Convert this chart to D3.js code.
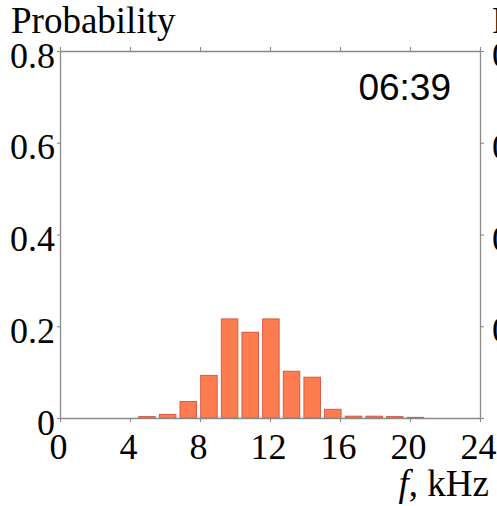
<!DOCTYPE html>
<html>
<head>
<meta charset="utf-8">
<script src="https://cdn.jsdelivr.net/npm/d3@7"></script>
<style>
  html, body { margin: 0; padding: 0; background: #fff; }
  svg { display: block; }
</style>
</head>
<body>
<svg id="chart" width="497" height="506"></svg>
<script>
// ---- data ----
const binCenters = [4.97, 6.15, 7.33, 8.51, 9.69, 10.87, 12.05, 13.23, 14.41, 15.59, 16.77, 17.95, 19.13, 20.31];
const probabilities = [0.003, 0.008, 0.036, 0.093, 0.216, 0.187, 0.216, 0.102, 0.089, 0.019, 0.004, 0.004, 0.003, 0.0015];
const binWidth = 1.18;
const xTicks = [0, 4, 8, 12, 16, 20, 24];
const yTicks = [0, 0.2, 0.4, 0.6, 0.8];
const yTickLabels = ["0", "0.2", "0.4", "0.6", "0.8"];
const timeLabel = "06:39";
const yTitle = "Probability";

// ---- layout ----
const svg = d3.select("#chart");
const mLeft = 60, mRight = 480, mTop = 51, mBottom = 418;
const x = d3.scaleLinear().domain([0, 24]).range([mLeft, mRight]);
const y = d3.scaleLinear().domain([0, 0.8]).range([mBottom, mTop]);
const serif = "'Liberation Serif', 'Times New Roman', serif";
const axisColor = "#8a8a8a";

// bars
svg.append("g").selectAll("rect")
  .data(binCenters.map((c, i) => ({ c, p: probabilities[i] })))
  .join("rect")
  .attr("x", d => x(d.c - binWidth * 0.4))
  .attr("width", d => x(d.c + binWidth * 0.4) - x(d.c - binWidth * 0.4))
  .attr("y", d => y(d.p))
  .attr("height", d => Math.max(0.8, y(0) - y(d.p)))
  .attr("fill", "#fd7c50")
  .attr("stroke", "#d8503e")
  .attr("stroke-width", 0.9);

function styleAxis(g) {
  g.selectAll(".domain").attr("stroke", axisColor).attr("stroke-width", 1.3);
  g.selectAll(".tick line").attr("stroke", axisColor).attr("stroke-width", 1.1);
}

// top axis (ticks only)
svg.append("g").attr("transform", `translate(0,${mTop})`)
  .call(d3.axisTop(x).tickValues(xTicks).tickSize(4).tickSizeOuter(0).tickFormat(""))
  .call(styleAxis);

// right axis (ticks only)
svg.append("g").attr("transform", `translate(${mRight},0)`)
  .call(d3.axisRight(y).tickValues(yTicks).tickSize(4).tickSizeOuter(0).tickFormat(""))
  .call(styleAxis);

// bottom axis
const gx = svg.append("g").attr("transform", `translate(0,${mBottom})`)
  .call(d3.axisBottom(x).tickValues(xTicks).tickSize(4).tickSizeOuter(0).tickPadding(11).tickFormat(d3.format("d")))
  .call(styleAxis);
gx.selectAll(".tick text")
  .attr("font-family", serif).attr("font-size", 36).attr("fill", "#000")
  .attr("dx", -2);

// left axis
const gy = svg.append("g").attr("transform", `translate(${mLeft},0)`)
  .call(d3.axisLeft(y).tickValues(yTicks).tickSize(3).tickSizeOuter(0).tickPadding(2)
    .tickFormat((d, i) => yTickLabels[i]))
  .call(styleAxis);
gy.selectAll(".tick text")
  .attr("font-family", serif).attr("font-size", 36).attr("fill", "#000")
  .attr("dy", "0.45em");

// y title
svg.append("text").attr("x", 11).attr("y", 33)
  .attr("font-family", serif).attr("font-size", 37).attr("fill", "#000")
  .text(yTitle);

// x title
const xt = svg.append("text").attr("x", 489).attr("y", 496)
  .attr("text-anchor", "end")
  .attr("font-family", serif).attr("font-size", 37).attr("fill", "#000");
xt.append("tspan").attr("font-style", "italic").text("f");
xt.append("tspan").text(", kHz");

// time label
svg.append("text").attr("x", 451).attr("y", 100)
  .attr("text-anchor", "end")
  .attr("font-family", "'Liberation Sans', Arial, sans-serif").attr("font-size", 37).attr("fill", "#000")
  .text(timeLabel);

// neighbouring panel (cut off at the right edge)
svg.append("text").attr("x", 492).attr("y", 33)
  .attr("font-family", serif).attr("font-size", 37).attr("fill", "#000")
  .text(yTitle);
svg.append("g").selectAll("text")
  .data(yTicks.slice(1))
  .join("text")
  .attr("x", 492).attr("y", d => y(d))
  .attr("dy", "0.45em")
  .attr("font-family", serif).attr("font-size", 36).attr("fill", "#000")
  .text((d, i) => yTickLabels[i + 1]);
</script>
</body>
</html>
